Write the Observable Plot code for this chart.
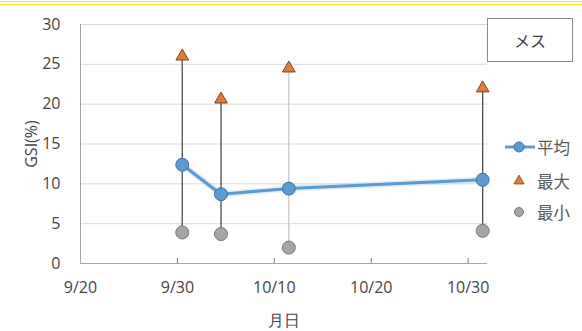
<!DOCTYPE html>
<html>
<head>
<meta charset="utf-8">
<script src="https://cdn.jsdelivr.net/npm/d3@7"></script>
<script src="https://cdn.jsdelivr.net/npm/@observablehq/plot@0.6"></script>
<style>
  html, body { margin: 0; padding: 0; background: #fff; }
  #wrap { position: relative; width: 582px; height: 331px; overflow: hidden; background: #fff; }
  .yl { position: absolute; left: 0; width: 582px; height: 1px; background: #f7f200; }
  #title { position: absolute; left: 487px; top: 18px; width: 84px; height: 42px;
           border: 1.5px solid #8c8c8c; box-sizing: content-box;
           font: 16px "Noto Sans CJK JP", sans-serif; color: #404040;
           display: flex; align-items: center; justify-content: center; }
  .lg { position: absolute; left: 537px; font: 16.5px "Noto Sans CJK JP", sans-serif; color: #595959;
        line-height: 20px; }
  #legendSwatch { position: absolute; left: 500px; top: 130px; }
</style>
</head>
<body>
<div id="wrap">
  <div class="yl" style="top:1px"></div>
  <div class="yl" style="top:4px"></div>
  <div id="chart"></div>
  <div id="title">メス</div>
  <svg id="legendSwatch" width="40" height="100"></svg>
  <div class="lg" style="top:137px">平均</div>
  <div class="lg" style="top:171px">最大</div>
  <div class="lg" style="top:202px">最小</div>
</div>
<script>
// Sampling dates (month/day) and GSI values (%)
const dates = ["9/30", "10/4", "10/11", "10/31"];
const meanGSI = [12.4, 8.7, 9.4, 10.5];
const maxGSI = [26.0, 20.6, 24.5, 22.0];
const minGSI = [3.9, 3.7, 2.0, 4.1];

// Axis ticks
const yTicks = [0, 5, 10, 15, 20, 25, 30];
const xTicks = ["9/20", "9/30", "10/10", "10/20", "10/30"];
const xEnd = "11/1";

const YEAR = 2020;
const day = (s) => { const [m, d] = s.split("/").map(Number); return new Date(Date.UTC(YEAR, m - 1, d)); };
// points sit in the middle of their day
const mid = (s) => new Date(+day(s) + 12 * 3600 * 1000);

const rows = dates.map((s, i) => ({
  date: mid(s), label: s, mean: meanGSI[i], max: maxGSI[i], min: minGSI[i], i
}));

const blue = "#5b9bd5", blueEdge = "#41719c";
const orange = "#e07b39", orangeEdge = "#7a4522";
const grey = "#a5a5a5", greyEdge = "#777";
const axisColor = "#a6a6a6";

const chart = Plot.plot({
  width: 582,
  height: 331,
  marginLeft: 80,
  marginRight: 95,
  marginTop: 24,
  marginBottom: 68,
  style: { fontFamily: "'Open Sans', sans-serif", fontSize: "16px", color: "#454545", background: "transparent" },
  x: { type: "utc", domain: [day(xTicks[0]), day(xEnd)] },
  y: { domain: [yTicks[0], yTicks[yTicks.length - 1]] },
  marks: [
    Plot.gridY(yTicks.slice(1), { stroke: "#d9d9d9", strokeOpacity: 1 }),
    Plot.ruleX([day(xTicks[0])], { stroke: axisColor }),
    Plot.ruleY([0], { stroke: axisColor }),
    Plot.axisY({
      ticks: yTicks, tickSize: 0, tickPadding: 20,
      label: "GSI(%)", labelAnchor: "center", labelOffset: 55, labelArrow: "none"
    }),
    // short tick marks pointing up into the plot
    Plot.axisX({
      ticks: xTicks.slice(1).map(day), tickSize: 5, dy: -5, stroke: "#7a7a7a",
      tickFormat: () => "", label: null
    }),
    Plot.axisX({
      ticks: xTicks.map(day), tickSize: 0, tickPadding: 18,
      tickFormat: (d, i) => xTicks[i],
      label: "月日", labelAnchor: "center", labelOffset: 62, labelArrow: "none"
    }),
    // high-low range lines
    Plot.ruleX(rows, {
      x: "date", y1: "min", y2: "max",
      stroke: (d) => (d.label === "10/11" ? "#c8c8c8" : "#4d4d4d"), strokeWidth: 1.3
    }),
    // mean line with soft halo
    Plot.line(rows, { x: "date", y: "mean", stroke: "#bdd7ee", strokeWidth: 6, strokeOpacity: 0.5 }),
    Plot.line(rows, { x: "date", y: "mean", stroke: blue, strokeWidth: 3 }),
    Plot.dot(rows, { x: "date", y: "mean", r: 6.5, fill: blue, stroke: blueEdge, strokeWidth: 1 }),
    Plot.dot(rows, { x: "date", y: "max", symbol: "triangle", r: 4.7, fill: orange, stroke: orangeEdge, strokeWidth: 1 }),
    Plot.dot(rows, { x: "date", y: "min", r: 6.5, fill: grey, stroke: greyEdge, strokeWidth: 1 })
  ]
});
document.getElementById("chart").appendChild(chart);

// legend swatches
const sw = d3.select("#legendSwatch");
sw.append("line").attr("x1", 5).attr("x2", 35).attr("y1", 17).attr("y2", 17)
  .attr("stroke", blue).attr("stroke-width", 3);
sw.append("circle").attr("cx", 19).attr("cy", 17).attr("r", 5)
  .attr("fill", blue).attr("stroke", blueEdge);
sw.append("path").attr("d", d3.symbol(d3.symbolTriangle, 45)()).attr("transform", "translate(19,51)")
  .attr("fill", orange).attr("stroke", orangeEdge).attr("stroke-width", 0.8);
sw.append("circle").attr("cx", 19).attr("cy", 82).attr("r", 4.5)
  .attr("fill", grey).attr("stroke", greyEdge);
</script>
</body>
</html>
